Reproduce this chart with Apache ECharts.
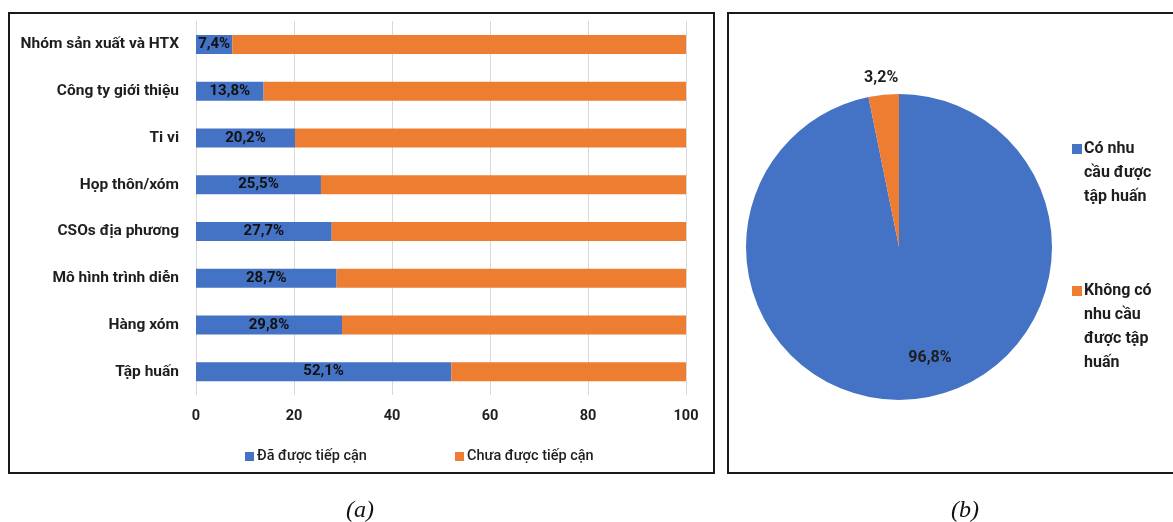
<!DOCTYPE html>
<html><head><meta charset="utf-8">
<script src="https://cdn.jsdelivr.net/npm/echarts@6/dist/echarts.min.js"></script>
<style>html,body{margin:0;padding:0;background:#fff}#c{width:1173px;height:522px}</style>
</head><body><div id="c"></div>
<script>
const categories = ['Nhóm sản xuất và HTX','Công ty giới thiệu','Ti vi','Họp thôn/xóm','CSOs địa phương','Mô hình trình diễn','Hàng xóm','Tập huấn'];
const reached = [7.4, 13.8, 20.2, 25.5, 27.7, 28.7, 29.8, 52.1];
const notReached = [92.6, 86.2, 79.8, 74.5, 72.3, 71.3, 70.2, 47.9];
const barSeriesNames = ['Đã được tiếp cận','Chưa được tiếp cận'];
const xTicks = [0, 20, 40, 60, 80, 100];
const pieNames = ['Có nhu cầu được tập huấn','Không có nhu cầu được tập huấn'];
const pieValues = [96.8, 3.2];
const pieLegendLines = {
  'Có nhu cầu được tập huấn': ['Có nhu','cầu được','tập huấn'],
  'Không có nhu cầu được tập huấn': ['Không có','nhu cầu','được tập','huấn']
};
const captions = ['(a)','(b)'];

const BLUE = '#4472C4', ORANGE = '#ED7D31';
const FONT = 'Roboto';
const TXT = '#1e1e1e';
const fmt = v => v.toFixed(1).replace('.', ',') + '%';
// legend text: pad with blank lines so the icon sits beside the first line
const legendText = n => { const l = pieLegendLines[n]; return '\n'.repeat(l.length - 1) + l.join('\n'); };

const barLegend = (name, left) => ({
  data: [name], left: left, top: 444, itemWidth: 9, itemHeight: 9, icon: 'rect',
  textStyle: {fontFamily: FONT, fontSize: 14.5, fontWeight: 500, color: TXT, padding:[0,0,0,-2]}
});
const pieLegend = (name, top) => ({
  data: [name], orient: 'vertical', left: 1067, top: top, itemWidth: 10, itemHeight: 10, icon: 'rect',
  formatter: legendText,
  textStyle: {fontFamily: FONT, fontSize: 16, fontWeight: 'bold', color: TXT, lineHeight: 24, padding:[0,0,0,-3]}
});

const chart = echarts.init(document.getElementById('c'));
chart.setOption({
  animation: false,
  textStyle: {fontFamily: FONT},
  graphic: [
    {type:'rect', shape:{x:9,y:13,width:705,height:460}, style:{fill:'none',stroke:'#1a1a1a',lineWidth:2}, z:-1},
    {type:'rect', shape:{x:728,y:13,width:460,height:460}, style:{fill:'none',stroke:'#1a1a1a',lineWidth:2}, z:-1},
    {type:'text', x:360, y:511, style:{text:captions[0], font:'italic 24px "Liberation Serif"', fill:'#111', align:'center', verticalAlign:'middle'}},
    {type:'text', x:965, y:511, style:{text:captions[1], font:'italic 24px "Liberation Serif"', fill:'#111', align:'center', verticalAlign:'middle'}}
  ],
  legend: [
    barLegend(barSeriesNames[0], 240),
    barLegend(barSeriesNames[1], 450),
    pieLegend(pieNames[0], 84),
    pieLegend(pieNames[1], 202)
  ],
  grid: {left: 196, right: 487, top: 21, bottom: 127, containLabel: false},
  xAxis: {
    type: 'value', min: 0, max: 100, interval: 20,
    axisLine: {show: false}, axisTick: {show: false},
    axisLabel: {margin: 14, fontFamily: FONT, fontSize: 14.5, fontWeight: 'bold', color: TXT,
      formatter: v => xTicks.includes(v) ? String(v) : ''},
    splitLine: {show: true, lineStyle: {color: '#d9d9d9', width: 1}}
  },
  yAxis: {
    type: 'category', data: categories, inverse: true,
    axisLine: {show: false}, axisTick: {show: false},
    axisLabel: {margin: 17, fontFamily: FONT, fontSize: 15.5, fontWeight: 'bold', color: TXT}
  },
  series: [
    {
      name: barSeriesNames[0], type: 'bar', stack: 'a', data: reached, barWidth: 19,
      itemStyle: {color: BLUE},
      label: {show: true, position: 'inside', formatter: p => fmt(p.value),
        fontFamily: FONT, fontSize: 15, fontWeight: 'bold', color: '#111'}
    },
    {
      name: barSeriesNames[1], type: 'bar', stack: 'a', data: notReached, barWidth: 19,
      itemStyle: {color: ORANGE}
    },
    {
      type: 'pie', center: [899, 247], radius: 153, startAngle: 90, clockwise: true,
      data: pieNames.map((n, i) => ({name: n, value: pieValues[i], itemStyle: {color: i === 0 ? BLUE : ORANGE},
        label: {position: i === 0 ? 'inside' : 'outside'}})),
      label: {show: true, formatter: p => fmt(p.value), fontFamily: FONT, fontSize: 16, fontWeight: 'bold', color: TXT},
      labelLine: {show: false, length: 4, length2: 0},
      labelLayout: p => p.dataIndex === 1 ? {dx: 20, dy: -13} : {dx: 23, dy: 32},
      emphasis: {disabled: true},
      itemStyle: {borderWidth: 0}
    }
  ]
});
</script></body></html>
